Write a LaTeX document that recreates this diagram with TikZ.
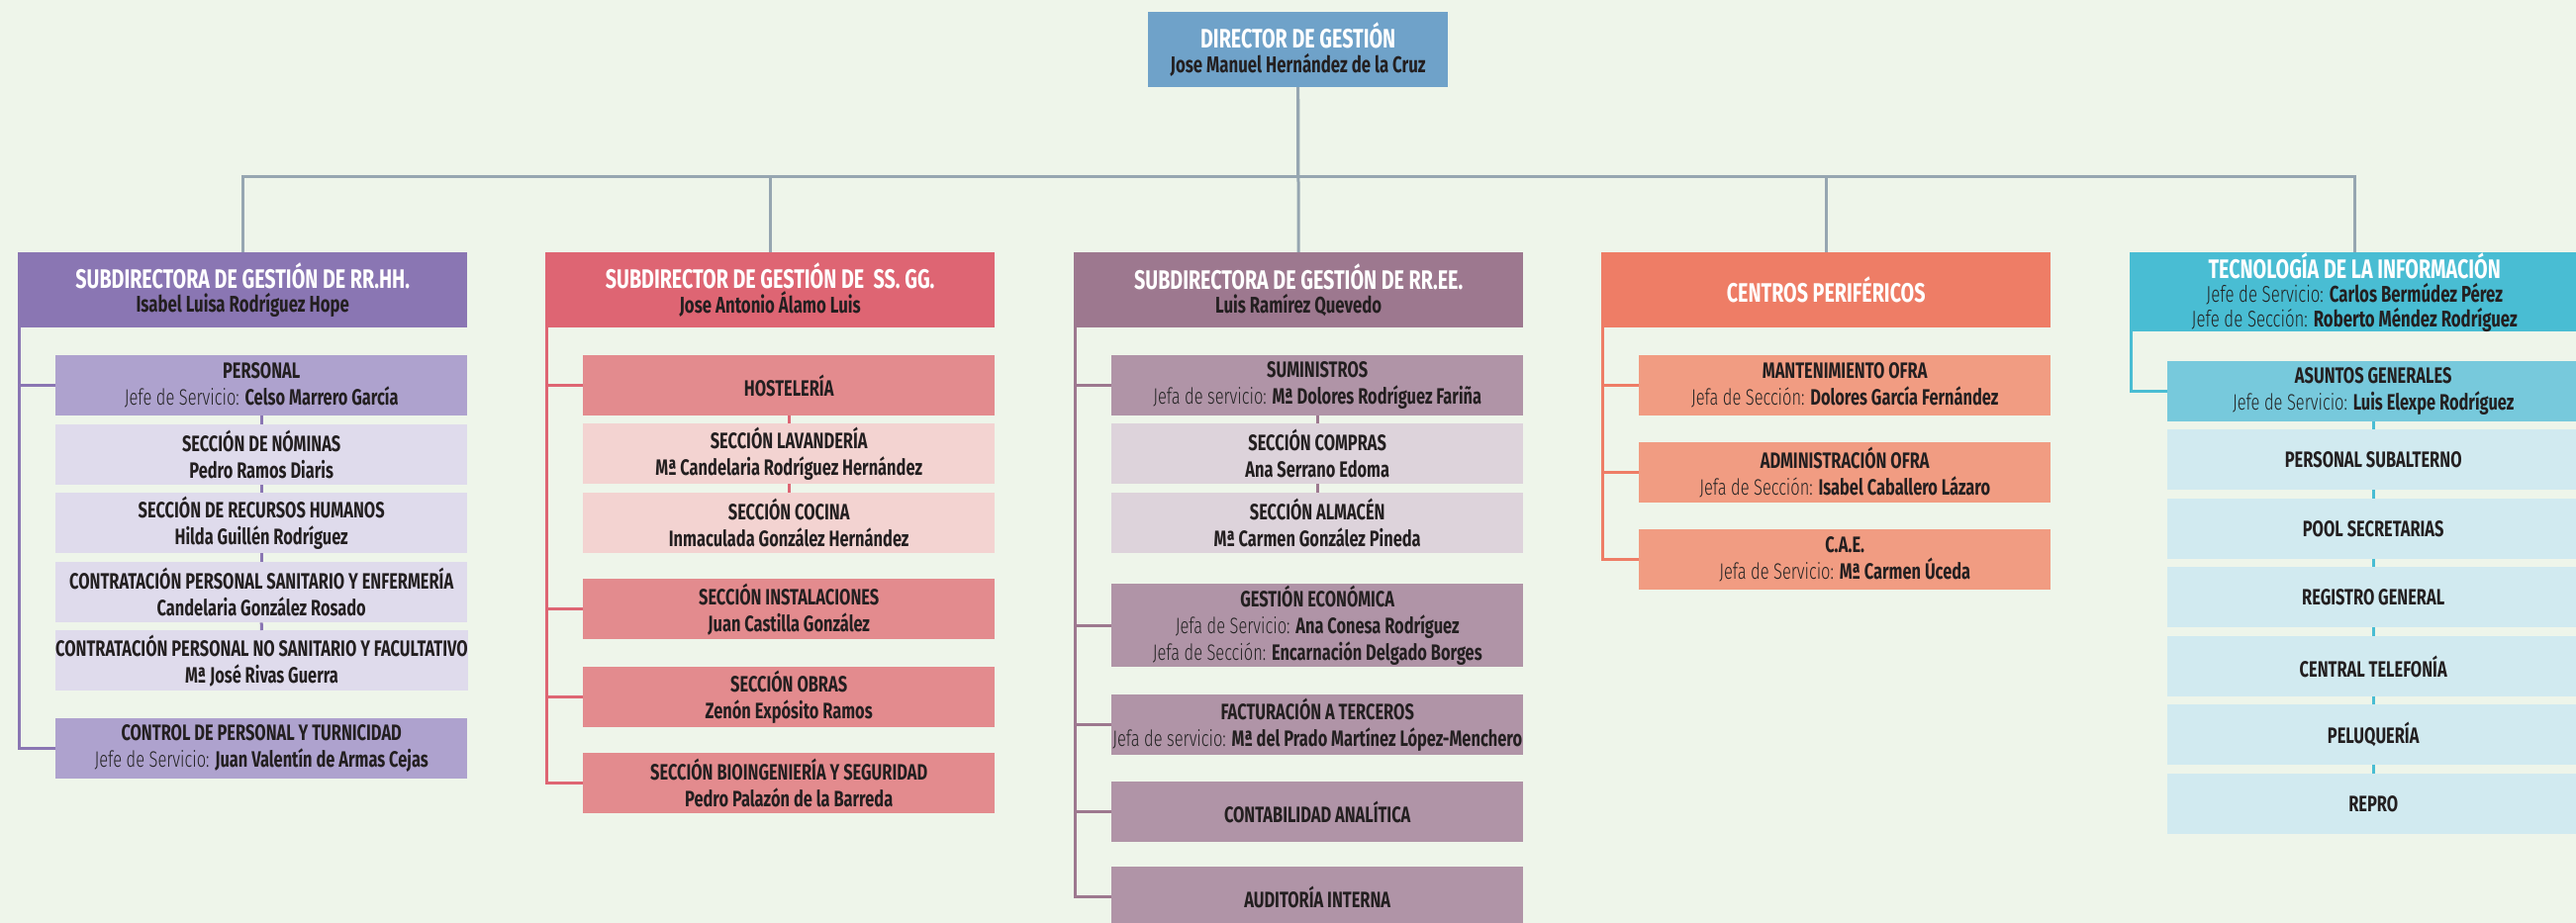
\documentclass[tikz,border=0pt]{standalone}
\usepackage{fontspec}
\setmainfont{Fira Sans}[FakeStretch=0.73]
\newfontfamily\LightFam{Fira Sans Light}[FakeStretch=0.73]
\usetikzlibrary{calc}
\definecolor{bg}{HTML}{EEF5EA}
\definecolor{busc}{HTML}{96A6B1}
\definecolor{txt}{HTML}{231F20}
\definecolor{lbl}{HTML}{222222}
\definecolor{dirc}{HTML}{6FA2C9}
\definecolor{hhc}{HTML}{8A76B3}
\definecolor{hhs}{HTML}{AEA2CE}
\definecolor{hhl}{HTML}{DFDBEC}
\definecolor{ggc}{HTML}{DE6573}
\definecolor{ggs}{HTML}{E38B8E}
\definecolor{ggl}{HTML}{F3D3D1}
\definecolor{eec}{HTML}{9D788F}
\definecolor{ees}{HTML}{B094A7}
\definecolor{eel}{HTML}{DDD3DB}
\definecolor{cpc}{HTML}{EE7D66}
\definecolor{cps}{HTML}{F19C82}
\definecolor{tic}{HTML}{49BDD3}
\definecolor{tis}{HTML}{77C9DC}
\definecolor{til}{HTML}{D1EAF0}
\newcommand\HdTitle[1]{{\fontsize{27}{28}\selectfont\bfseries\color{white}#1}}
\newcommand\PName[1]{{\bfseries #1}}
\newcommand\PLabel[1]{{\LightFam\color{lbl}#1}}
\begin{document}
\begin{tikzpicture}[x=1pt,y=-1pt,
  box/.style={rectangle, inner sep=0pt, align=center, anchor=north west, text=txt},
  hdr/.style={box, minimum width=454pt, minimum height=76pt, font=\fontsize{23}{24.5}\selectfont},
  sub/.style={box, minimum width=416pt, minimum height=61pt, font=\fontsize{22.5}{27}\selectfont},
  bus/.style={draw=busc, line width=3pt},
  conn/.style={line width=3pt}]
\useasboundingbox (0,0) rectangle (2603,933);
\fill[bg] (0,0) rectangle (2603,933);
\coordinate (busy) at (0,179);

% director
\node[box, fill=dirc, minimum width=303pt, minimum height=76pt, font=\fontsize{23}{24.5}\selectfont] (dir) at (1160,12)
  {\HdTitle{DIRECTOR DE GESTIÓN}\\\PName{Jose Manuel Hernández de la Cruz}};

% headers
\node[hdr, fill=hhc] (hh) at (18,255) {\HdTitle{SUBDIRECTORA DE GESTIÓN DE RR.HH.}\\\PName{Isabel Luisa Rodríguez Hope}};
\node[hdr, fill=ggc] (gg) at (551,255) {\HdTitle{SUBDIRECTOR DE GESTIÓN DE\ \ SS. GG.}\\\PName{Jose Antonio Álamo Luis}};
\node[hdr, fill=eec] (ee) at (1085,255) {\HdTitle{SUBDIRECTORA DE GESTIÓN DE RR.EE.}\\\PName{Luis Ramírez Quevedo}};
\node[hdr, fill=cpc] (cp) at (1618,255) {\HdTitle{CENTROS PERIFÉRICOS}};
\node[hdr, fill=tic] (ti) at (2152,255) {\HdTitle{TECNOLOGÍA DE LA INFORMACIÓN}\\\PLabel{Jefe de Servicio:} \PName{Carlos Bermúdez Pérez}\\\PLabel{Jefe de Sección:} \PName{Roberto Méndez Rodríguez}};

% bus
\draw[bus] (dir.south) -- (dir.south |- busy) -| (hh.north);
\draw[bus] (dir.south) -- (dir.south |- busy) -| (gg.north);
\draw[bus] (dir.south) -- (ee.north);
\draw[bus] (dir.south) -- (dir.south |- busy) -| (cp.north);
\draw[bus] (dir.south) -- (dir.south |- busy) -| (ti.north);

% RR.HH.
\node[sub, fill=hhs] (hhP) at (56,359) {\PName{PERSONAL}\\\PLabel{Jefe de Servicio:} \PName{Celso Marrero García}};
\node[sub, fill=hhl] (hhN) at (56,429) {\PName{SECCIÓN DE NÓMINAS}\\\PName{Pedro Ramos Diaris}};
\node[sub, fill=hhl] (hhR) at (56,498) {\PName{SECCIÓN DE RECURSOS HUMANOS}\\\PName{Hilda Guillén Rodríguez}};
\node[sub, fill=hhl] (hhS) at (56,568) {\PName{CONTRATACIÓN PERSONAL SANITARIO Y ENFERMERÍA}\\\PName{Candelaria González Rosado}};
\node[sub, fill=hhl] (hhF) at (56,637) {\PName{CONTRATACIÓN PERSONAL NO SANITARIO Y FACULTATIVO}\\\PName{Mª José Rivas Guerra}};
\node[sub, fill=hhs] (hhC) at (56,726) {\PName{CONTROL DE PERSONAL Y TURNICIDAD}\\\PLabel{Jefe de Servicio:} \PName{Juan Valentín de Armas Cejas}};
\draw[conn, draw=hhc] ($(hh.south west)+(1.5,0)$) |- (hhP.west);
\draw[conn, draw=hhc] ($(hh.south west)+(1.5,0)$) |- (hhC.west);
\draw[conn, draw=hhc] (hhP.south) -- (hhN.north);
\draw[conn, draw=hhc] (hhN.south) -- (hhR.north);
\draw[conn, draw=hhc] (hhR.south) -- (hhS.north);
\draw[conn, draw=hhc] (hhS.south) -- (hhF.north);

% SS.GG.
\node[sub, fill=ggs] (ggH) at (589,359) {\PName{HOSTELERÍA}};
\node[sub, fill=ggl] (ggL) at (589,428) {\PName{SECCIÓN LAVANDERÍA}\\\PName{Mª Candelaria Rodríguez Hernández}};
\node[sub, fill=ggl] (ggC) at (589,498) {\PName{SECCIÓN COCINA}\\\PName{Inmaculada González Hernández}};
\node[sub, fill=ggs] (ggI) at (589,585) {\PName{SECCIÓN INSTALACIONES}\\\PName{Juan Castilla González}};
\node[sub, fill=ggs] (ggO) at (589,674) {\PName{SECCIÓN OBRAS}\\\PName{Zenón Expósito Ramos}};
\node[sub, fill=ggs] (ggB) at (589,761) {\PName{SECCIÓN BIOINGENIERÍA Y SEGURIDAD}\\\PName{Pedro Palazón de la Barreda}};
\foreach \t in {ggH,ggI,ggO,ggB}
  \draw[conn, draw=ggc] ($(gg.south west)+(1.5,0)$) |- (\t.west);
\draw[conn, draw=ggc] (ggH.south) -- (ggL.north);
\draw[conn, draw=ggc] (ggL.south) -- (ggC.north);

% RR.EE.
\node[sub, fill=ees] (eeS) at (1123,359) {\PName{SUMINISTROS}\\\PLabel{Jefa de servicio:} \PName{Mª Dolores Rodríguez Fariña}};
\node[sub, fill=eel] (eeC) at (1123,428) {\PName{SECCIÓN COMPRAS}\\\PName{Ana Serrano Edoma}};
\node[sub, fill=eel] (eeA) at (1123,498) {\PName{SECCIÓN ALMACÉN}\\\PName{Mª Carmen González Pineda}};
\node[sub, fill=ees, minimum height=84pt] (eeG) at (1123,590) {\PName{GESTIÓN ECONÓMICA}\\\PLabel{Jefa de Servicio:} \PName{Ana Conesa Rodríguez}\\\PLabel{Jefa de Sección:} \PName{Encarnación Delgado Borges}};
\node[sub, fill=ees] (eeF) at (1123,702) {\PName{FACTURACIÓN A TERCEROS}\\\PLabel{Jefa de servicio:} \PName{Mª del Prado Martínez López-Menchero}};
\node[sub, fill=ees] (eeK) at (1123,790) {\PName{CONTABILIDAD ANALÍTICA}};
\node[sub, fill=ees] (eeU) at (1123,876) {\PName{AUDITORÍA INTERNA}};
\foreach \t in {eeS,eeG,eeF,eeK,eeU}
  \draw[conn, draw=eec] ($(ee.south west)+(1.5,0)$) |- (\t.west);
\draw[conn, draw=eec] (eeS.south) -- (eeC.north);
\draw[conn, draw=eec] (eeC.south) -- (eeA.north);

% Centros perifericos
\node[sub, fill=cps] (cpM) at (1656,359) {\PName{MANTENIMIENTO OFRA}\\\PLabel{Jefa de Sección:} \PName{Dolores García Fernández}};
\node[sub, fill=cps] (cpA) at (1656,447) {\PName{ADMINISTRACIÓN OFRA}\\\PLabel{Jefa de Sección:} \PName{Isabel Caballero Lázaro}};
\node[sub, fill=cps] (cpE) at (1656,535) {\PName{C.A.E.}\\\PLabel{Jefa de Servicio:} \PName{Mª Carmen Úceda}};
\foreach \t in {cpM,cpA,cpE}
  \draw[conn, draw=cpc] ($(cp.south west)+(1.5,0)$) |- (\t.west);

% TI
\node[sub, fill=tis] (tiA) at (2190,365) {\PName{ASUNTOS GENERALES}\\\PLabel{Jefe de Servicio:} \PName{Luis Elexpe Rodríguez}};
\node[sub, fill=til] (tiP) at (2190,434) {\PName{PERSONAL SUBALTERNO}};
\node[sub, fill=til] (tiS) at (2190,504) {\PName{POOL SECRETARIAS}};
\node[sub, fill=til] (tiR) at (2190,573) {\PName{REGISTRO GENERAL}};
\node[sub, fill=til] (tiC) at (2190,643) {\PName{CENTRAL TELEFONÍA}};
\node[sub, fill=til] (tiL) at (2190,712) {\PName{PELUQUERÍA}};
\node[sub, fill=til] (tiX) at (2190,782) {\PName{REPRO}};
\draw[conn, draw=tic] ($(ti.south west)+(1.5,0)$) |- (tiA.west);
\draw[conn, draw=tic] (tiA.south) -- (tiP.north);
\draw[conn, draw=tic] (tiP.south) -- (tiS.north);
\draw[conn, draw=tic] (tiS.south) -- (tiR.north);
\draw[conn, draw=tic] (tiR.south) -- (tiC.north);
\draw[conn, draw=tic] (tiC.south) -- (tiL.north);
\draw[conn, draw=tic] (tiL.south) -- (tiX.north);
\end{tikzpicture}
\end{document}
